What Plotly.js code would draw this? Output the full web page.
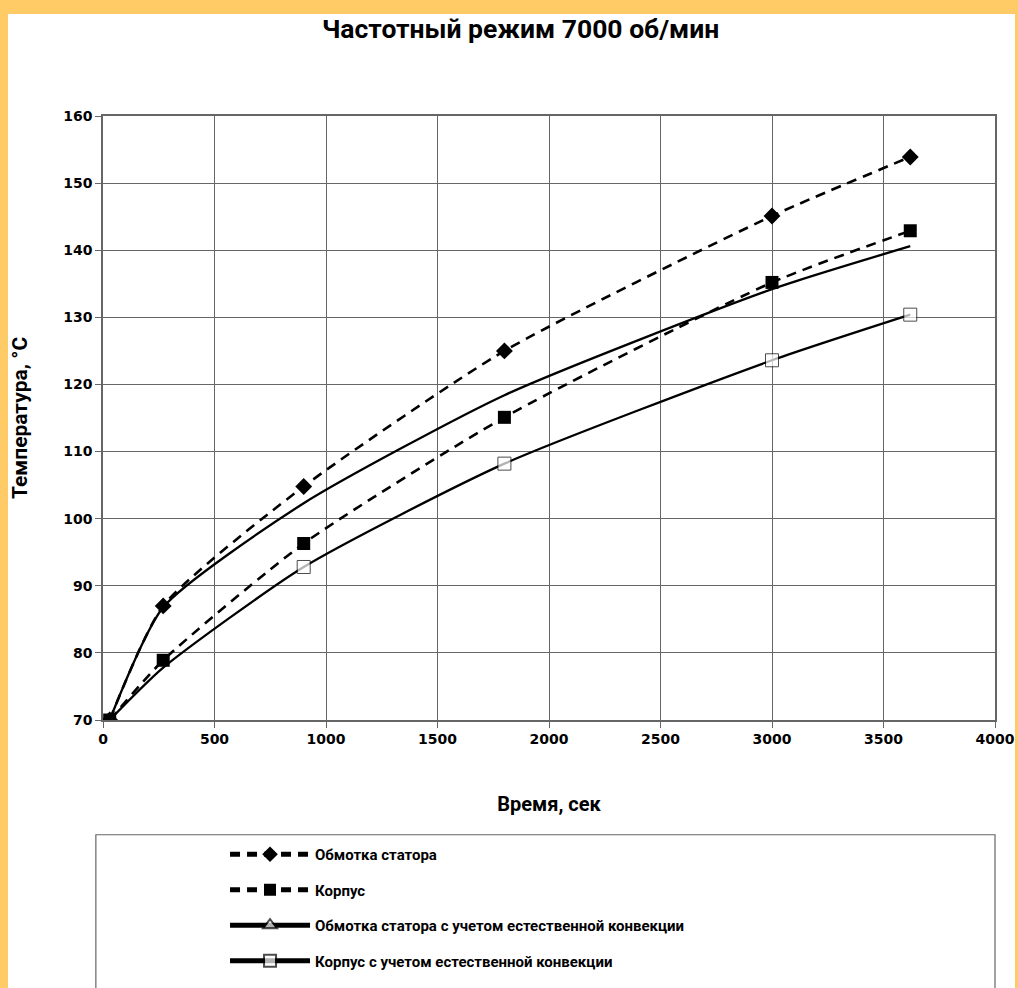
<!DOCTYPE html>
<html>
<head>
<meta charset="utf-8">
<script src="https://cdn.plot.ly/plotly-3.0.1.min.js"></script>
<style>
  html, body { margin: 0; padding: 0; background: #FECB66; width: 1018px; height: 988px; overflow: hidden; }
  #chart { position: absolute; left: 8px; top: 14px; width: 1007px; height: 974px; background: #fff; }
</style>
</head>
<body>
<div id="chart"></div>
<script>
// ---- data ----
const timeSec = [30, 270, 900, 1800, 3000, 3620];
const statorWinding = [70, 87, 104.8, 125, 145.1, 153.9];
const housing = [70, 78.9, 96.3, 115.1, 135.2, 142.9];
const statorWindingConv = [70, 86.8, 102.3, 118.4, 134.2, 140.6];
const housingConv = [70, 77.8, 92.8, 108.2, 123.6, 130.4];

const seriesNames = [
  'Обмотка статора',
  'Корпус',
  'Обмотка статора с учетом естественной конвекции',
  'Корпус с учетом естественной конвекции'
];
const chartTitle = 'Частотный режим 7000 об/мин';
const xTitle = 'Время, сек';
const yTitle = 'Температура, °С';

const narrow = 'Roboto, Liberation Sans, sans-serif';

const traces = [
  {
    x: timeSec, y: statorWinding, name: seriesNames[0], legendgroup: 'a',
    mode: 'lines+markers', line: {color: '#000', width: 2.6, dash: '10px,7px', shape: 'spline', smoothing: 0.6},
    marker: {symbol: 'diamond', size: 13, color: '#000'}
  },
  {
    x: timeSec, y: housing, name: seriesNames[1], legendgroup: 'b',
    mode: 'lines+markers', line: {color: '#000', width: 2.6, dash: '10px,7px', shape: 'spline', smoothing: 0.6},
    marker: {symbol: 'square', size: 13, color: '#000'}
  },
  {
    x: timeSec, y: statorWindingConv, name: seriesNames[2], legendgroup: 'c',
    mode: 'lines+markers', line: {color: '#000', width: 2.3, shape: 'spline', smoothing: 0.6},
    marker: {symbol: 'triangle-up', size: timeSec.map(() => 0.01), color: '#fff', line: {color: '#000', width: 1}}
  },
  {
    x: timeSec, y: housingConv, name: seriesNames[3], legendgroup: 'd',
    mode: 'lines+markers', line: {color: '#000', width: 2.3, shape: 'spline', smoothing: 0.6},
    marker: {symbol: 'square', size: timeSec.map((t, i) => i < 2 ? 0.01 : 13), color: '#fff', line: {color: '#000', width: 1}}
  }
];

const gridC = '#666666';
const layout = {
  width: 1007, height: 974,
  margin: {l: 95, r: 20, t: 102, b: 267},
  paper_bgcolor: '#fff', plot_bgcolor: '#fff',
  showlegend: true,
  title: {
    text: chartTitle, xref: 'container', yref: 'container', x: 0.509, y: 0.985,
    xanchor: 'center', yanchor: 'middle',
    font: {family: narrow, size: 26.5, color: '#000', weight: 'bold'}
  },
  xaxis: {
    range: [0, 4000], dtick: 500, tick0: 0, tickangle: 0,
    showgrid: true, gridcolor: gridC, gridwidth: 1,
    showline: true, mirror: true, linecolor: gridC, linewidth: 1.6,
    ticks: 'outside', ticklen: 6, tickcolor: gridC, zeroline: false,
    ticklabeloverflow: 'allow',
    tickfont: {family: 'DejaVu Sans, Verdana, sans-serif', size: 14, color: '#000', weight: 'bold'},
    title: {text: xTitle, standoff: 50, font: {family: narrow, size: 20, color: '#000', weight: 'bold'}}
  },
  yaxis: {
    range: [70, 160], dtick: 10, tick0: 70,
    showgrid: true, gridcolor: gridC, gridwidth: 1,
    showline: true, mirror: true, linecolor: gridC, linewidth: 1.6,
    ticks: 'outside', ticklen: 6, tickcolor: gridC, zeroline: false,
    tickfont: {family: 'DejaVu Sans, Verdana, sans-serif', size: 14, color: '#000', weight: 'bold'},
    title: {text: yTitle, standoff: 33, font: {family: narrow, size: 21, color: '#000', weight: 'bold'}}
  },
  legend: {
    x: 0.1368, y: -0.1934, xanchor: 'left', yanchor: 'top',
    bgcolor: 'rgba(0,0,0,0)', borderwidth: 0,
    traceorder: 'grouped', tracegroupgap: 13, itemsizing: 'constant', itemwidth: 80,
    font: {family: narrow, size: 15, color: '#000', weight: 'bold'}
  },
  shapes: [
    {type: 'rect', xref: 'paper', yref: 'paper', x0: -0.008, x1: 1, y0: -0.19, y1: -0.6,
     line: {color: gridC, width: 1.2}, fillcolor: 'rgba(0,0,0,0)', layer: 'below'}
  ]
};

Plotly.newPlot('chart', traces, layout, {displayModeBar: false, staticPlot: true});
</script>
</body>
</html>
